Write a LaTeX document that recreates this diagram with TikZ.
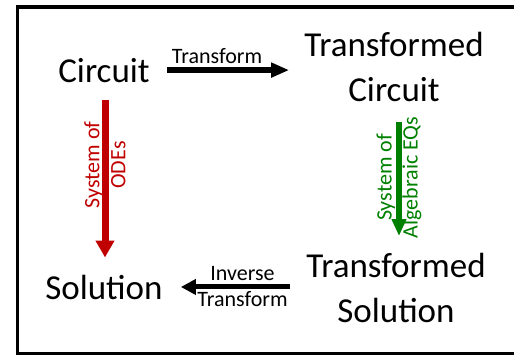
\documentclass[tikz,border=0pt]{standalone}
\usepackage{fontspec}
\setmainfont{Carlito}
\usetikzlibrary{arrows.meta}
\definecolor{odered}{RGB}{192,0,0}
\definecolor{eqgreen}{RGB}{0,128,0}
\begin{document}
\begin{tikzpicture}[x=1pt,y=-1pt,
  big/.style={inner sep=0pt, font=\fontsize{35}{45}\selectfont, align=center},
  lbl/.style={inner sep=0pt, font=\fontsize{22}{26}\selectfont, align=center},
  blkarrow/.style={line width=6pt, -{Triangle[length=18pt,width=14pt]}},
  invarrow/.style={line width=5pt, -{Triangle[length=15pt,width=15pt]}},
  redarrow/.style={odered, line width=7pt, -{Triangle[length=17pt,width=18pt]}},
  greenarrow/.style={eqgreen, line width=6pt, -{Triangle[length=17pt,width=14pt]}},
]
\useasboundingbox (0,0) rectangle (514,356);
\draw[line width=3.6pt] (17.5,7) rectangle (530,353.5);

\node[big, anchor=base] (circ) at (104,82) {Circuit};
\node[big] (tc) at (394,67) {Transformed\\Circuit};
\node[big, anchor=base] (sol) at (104,299) {Solution};
\node[big] (ts) at (396,288) {Transformed\\Solution};

\draw[blkarrow, shorten <=17pt, shorten >=15pt] (circ.east) -- (circ.east -| tc.west)
  node[midway, lbl, above=3pt, xshift=-10pt] {Transform};
\draw[invarrow, shorten <=16pt, shorten >=18pt] (ts.west |- sol.east) -- (sol.east)
  node[lbl, midway, xshift=8pt] (invlbl) {Inverse\\Transform};
\draw[redarrow, shorten <=18pt, shorten >=17pt] ([xshift=1pt]circ.south) -- ([xshift=1pt]sol.north)
  node[lbl, pos=0.43, rotate=90, text=odered] {System of\\ODEs};
\draw[greenarrow, shorten <=20pt, shorten >=17pt] ([xshift=5pt]tc.south) -- ([xshift=3pt]ts.north)
  node[lbl, pos=0.5, rotate=90, text=eqgreen] {System of\\Algebraic EQs};
\end{tikzpicture}
\end{document}
